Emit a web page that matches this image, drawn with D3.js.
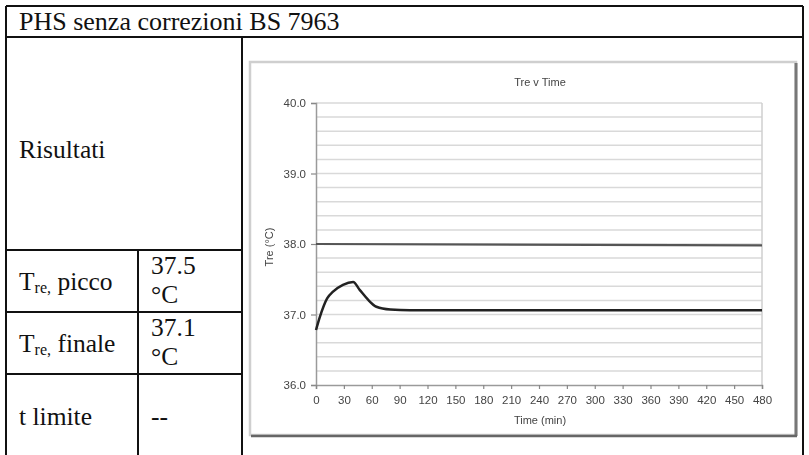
<!DOCTYPE html>
<html>
<head>
<meta charset="utf-8">
<script src="https://cdn.jsdelivr.net/npm/d3@7"></script>
<style>
  html, body { margin: 0; padding: 0; background: #fff; }
  svg { display: block; }
  .cell { font-family: "Liberation Serif", "Times New Roman", Times, serif; fill: #111; }
  .lbl { font-family: "Liberation Sans", Arial, sans-serif; fill: #444; }
</style>
</head>
<body>
<div id="chart"></div>
<script>
// rectal temperature over the exposure (minutes, °C)
const times = [0, 4, 12, 18, 29, 40, 47, 56, 65, 80, 101, 150, 240, 330, 420, 480];
const treValues = [36.78, 36.96, 37.23, 37.32, 37.42, 37.46, 37.35, 37.21, 37.11, 37.07, 37.06, 37.06, 37.06, 37.06, 37.06, 37.06];
// limit line
const limitTimes = [0, 480];
const limitValues = [38.0, 37.98];

const xTicks = d3.range(0, 481, 30);
const yTicks = [36, 37, 38, 39, 40];
const gridValues = d3.range(36.2, 40.01, 0.2);

const tableTitle = "PHS senza correzioni BS 7963";
const rowLabels = ["Risultati", "picco", "finale", "t limite"];
const rowValues = ["", "37.5", "37.1", "--"];

const width = 809, height = 455;

const svg = d3.select("#chart")
    .append("svg")
    .attr("width", width)
    .attr("height", height);

// ---- table ----
const tbl = svg.append("g")
    .attr("stroke", "#111")
    .attr("stroke-width", 2);

const tblLines = [
    [6, 6, 803, 6], [6, 37, 803, 37],
    [6, 6, 6, 460], [803, 6, 803, 460],
    [242, 37, 242, 460], [138, 250, 138, 460],
    [6, 250, 242, 250], [6, 312, 242, 312], [6, 374, 242, 374]
];
tbl.selectAll("line").data(tblLines).enter()
    .append("line")
    .attr("x1", d => d[0]).attr("y1", d => d[1])
    .attr("x2", d => d[2]).attr("y2", d => d[3]);

const tx = svg.append("g");
const fs = 25.5;

function cellText(xp, yp, s, size) {
    return tx.append("text").attr("class", "cell")
        .attr("x", xp).attr("y", yp)
        .style("font-size", (size || fs) + "px")
        .text(s);
}

cellText(19, 30, tableTitle, 26);
cellText(19, 158, rowLabels[0]);

function treLabel(yp, word) {
    const t = tx.append("text").attr("class", "cell")
        .attr("x", 19).attr("y", yp).style("font-size", fs + "px");
    t.append("tspan").text("T");
    t.append("tspan").style("font-size", "16px").attr("dy", 3).text("re,");
    t.append("tspan").attr("dy", -3).text(" " + word);
}
treLabel(290, rowLabels[1]);
treLabel(352, rowLabels[2]);
cellText(19, 425, rowLabels[3]);

[[rowValues[1], 274, 303], [rowValues[2], 336, 365]].forEach(([v, y1, y2]) => {
    cellText(151, y1, v);
    cellText(151, y2, "°C");
});
cellText(151, 425, rowValues[3]);

// ---- embedded chart ----
const defs = svg.append("defs");
defs.append("filter").attr("id", "soft")
    .append("feGaussianBlur").attr("stdDeviation", 0.45);

const chart = svg.append("g").attr("filter", "url(#soft)");

// frame with shadowed right/bottom edges
chart.append("rect")
    .attr("x", 250).attr("y", 62).attr("width", 546).attr("height", 373)
    .attr("fill", "#fff").attr("stroke", "#cfcfcf").attr("stroke-width", 2.5);
chart.append("line").attr("x1", 796).attr("y1", 63).attr("x2", 796).attr("y2", 436)
    .attr("stroke", "#777").attr("stroke-width", 3);
chart.append("line").attr("x1", 251).attr("y1", 436).attr("x2", 797).attr("y2", 436)
    .attr("stroke", "#666").attr("stroke-width", 2.5);

const x = d3.scaleLinear().domain([0, 480]).range([316, 762]);
const y = d3.scaleLinear().domain([36, 40]).range([385, 103]);

// gridlines
chart.append("g").selectAll("line").data(gridValues).enter()
    .append("line")
    .attr("x1", x(0)).attr("x2", x(480))
    .attr("y1", d => y(d)).attr("y2", d => y(d))
    .attr("stroke", "#d9d9d9").attr("stroke-width", 1.5);
chart.append("line")
    .attr("x1", x(480)).attr("x2", x(480)).attr("y1", y(40)).attr("y2", y(36))
    .attr("stroke", "#cfcfcf").attr("stroke-width", 1.5);

const yAxis = chart.append("g")
    .attr("transform", `translate(${x(0)},0)`)
    .call(d3.axisLeft(y).tickValues(yTicks).tickSize(5).tickPadding(5).tickFormat(d3.format(".1f")));
const xAxis = chart.append("g")
    .attr("transform", `translate(0,${y(36)})`)
    .call(d3.axisBottom(x).tickValues(xTicks).tickSize(4).tickPadding(7));

[yAxis, xAxis].forEach(ax => {
    ax.attr("font-family", null);
    ax.select(".domain").attr("stroke", "#9a9a9a").attr("stroke-width", 1.5);
    ax.selectAll(".tick line").attr("stroke", "#888").attr("stroke-width", 1.2);
    ax.selectAll("text").attr("class", "lbl").style("font-size", "11.5px");
});

const line = d3.line()
    .x(d => x(d[0]))
    .y(d => y(d[1]))
    .curve(d3.curveMonotoneX);

chart.append("path")
    .datum(d3.zip(limitTimes, limitValues))
    .attr("d", line)
    .attr("fill", "none").attr("stroke", "#555").attr("stroke-width", 2.2);

chart.append("path")
    .datum(d3.zip(times, treValues))
    .attr("d", line)
    .attr("fill", "none").attr("stroke", "#222").attr("stroke-width", 2.5);

function chartText(xp, yp, s) {
    return chart.append("text").attr("class", "lbl")
        .attr("x", xp).attr("y", yp)
        .attr("text-anchor", "middle")
        .style("font-size", "11px")
        .text(s);
}
chartText(540, 86, "Tre v Time");
chartText(540, 424, "Time (min)");
chartText(0, 0, "Tre (°C)").attr("transform", "translate(273,247) rotate(-90)");
</script>
</body>
</html>
